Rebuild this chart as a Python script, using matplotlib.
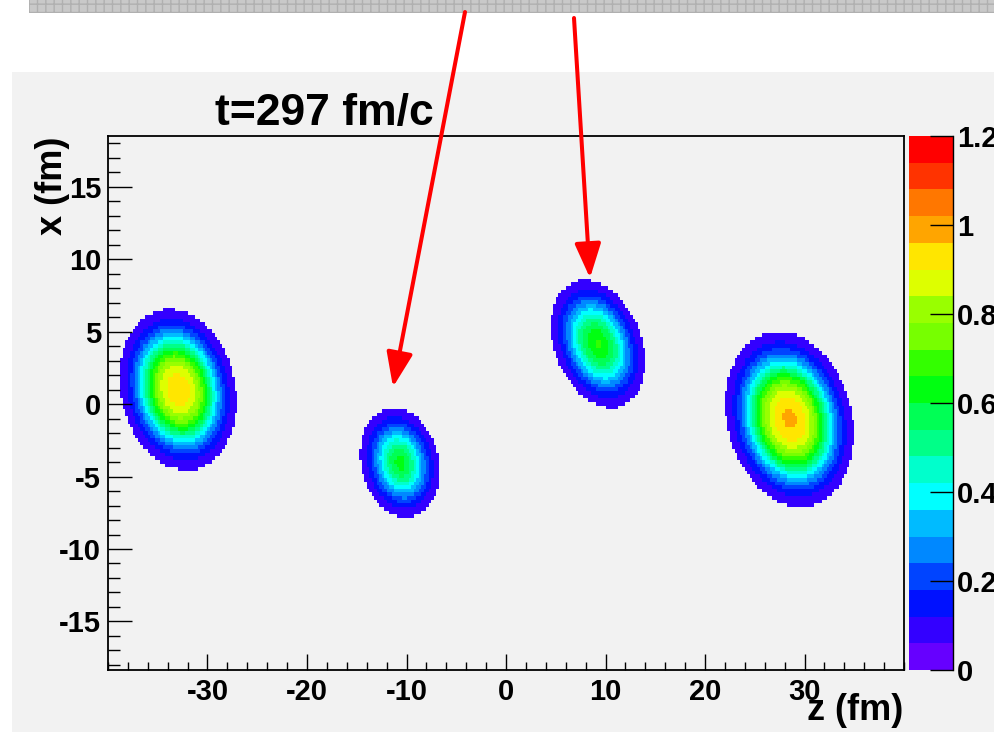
import numpy as np
import matplotlib
matplotlib.use('Agg')
import matplotlib.pyplot as plt
from matplotlib.colors import ListedColormap, BoundaryNorm
from matplotlib.patches import Rectangle, FancyArrowPatch
from matplotlib.cm import ScalarMappable
import matplotlib.ticker as mticker

plt.rcParams['font.family'] = ['Liberation Sans', 'DejaVu Sans']
plt.rcParams['font.weight'] = 'bold'
plt.rcParams['axes.unicode_minus'] = False

# ---------------- data ----------------
title = "t=297 fm/c"
xlabel = "z (fm)"
ylabel = "x (fm)"

# four density blobs: centre (fm), central value, semi-axes of the outer
# visible edge (fm), tilt (deg), surface diffuseness (fm)
blob_z = [-32.95, -10.65, 9.25, 28.5]
blob_x = [1.0, -4.05, 4.15, -1.05]
blob_peak = [0.962, 0.64, 0.67, 0.982]
blob_edge_a = [6.15, 4.2, 5.2, 6.8]
blob_edge_b = [5.25, 3.55, 3.85, 5.65]
blob_angle = [-35, -35, -38, -35]
blob_diffuse = [0.9, 0.8, 0.85, 0.95]

levels = [0.00, 0.06, 0.12, 0.18, 0.24, 0.30, 0.36, 0.42, 0.48, 0.54, 0.60,
          0.66, 0.72, 0.78, 0.84, 0.90, 0.96, 1.02, 1.08, 1.14, 1.20]
palette = ['#6600FF', '#3300FF', '#0011FF', '#0044FF', '#0088FF', '#00BBFF',
           '#00FFFF', '#00FFCC', '#00FF88', '#00FF55', '#00FF11', '#33FF00',
           '#77FF00', '#99FF00', '#DDFF00', '#FFE600', '#FFA500', '#FF7700',
           '#FF3300', '#FF0000']
cbar_ticks = [0, 0.2, 0.4, 0.6, 0.8, 1.0, 1.2]
cbar_labels = ["0", "0.2", "0.4", "0.6", "0.8", "1", "1.2"]
z_ticks = [-30, -20, -10, 0, 10, 20, 30]
x_ticks = [-15, -10, -5, 0, 5, 10, 15]
z_range = (-40, 40)
x_range = (-18.35, 18.5)
bin_size = 0.25

# ---------------- field on a binned grid ----------------
cut = levels[1]
zc = np.arange(z_range[0], z_range[1] + 1e-9, bin_size)
xc = np.arange(x_range[0], x_range[1] + 1e-9, bin_size)
Z, X = np.meshgrid(zc + bin_size / 2, xc + bin_size / 2)
field = np.zeros_like(Z)
for z0, x0, pk, ea, eb, ang, d in zip(blob_z, blob_x, blob_peak, blob_edge_a,
                                      blob_edge_b, blob_angle, blob_diffuse):
    t = np.deg2rad(ang)
    dz, dx = Z - z0, X - x0
    u = dz * np.cos(t) + dx * np.sin(t)
    v = -dz * np.sin(t) + dx * np.cos(t)
    rho = np.sqrt((u / ea) ** 2 + (v / eb) ** 2)  # = 1 on the visible edge
    r_edge = np.sqrt(ea * eb)
    r = rho * r_edge
    # Fermi profile with central value pk and value `cut` on the edge
    P = pk
    for _ in range(50):
        R = r_edge - d * np.log(P / cut - 1)
        P = pk * (1 + np.exp(-R / d))
    f = P / (1 + np.exp((r - R) / d))
    field = np.maximum(field, f)
field = np.ma.masked_less(field, cut)

cmap = ListedColormap(palette)
norm = BoundaryNorm(levels, cmap.N)

# ---------------- figure ----------------
W, H = 994, 732
fig = plt.figure(figsize=(W / 100, H / 100), dpi=100)
fig.patch.set_facecolor('white')

def fx(px):
    return px / W

def fy(py):
    return 1 - py / H

# grey band at top (cropped screenshot)
band = Rectangle((fx(29), fy(13)), fx(994) - fx(29), fy(0) - fy(13),
                 transform=fig.transFigure, facecolor='#C9C9C9',
                 edgecolor='#B0B0B0', hatch='++', lw=0, zorder=-5)
fig.patches.append(band)
# light grey canvas
canvas = Rectangle((fx(12), 0), 1 - fx(12), fy(72),
                   transform=fig.transFigure, facecolor='#F2F2F2',
                   edgecolor='none', zorder=-5)
fig.patches.append(canvas)

ax = fig.add_axes([fx(108), fy(670), fx(904) - fx(108), fy(136) - fy(670)])
ax.set_facecolor('#F2F2F2')
ax.pcolormesh(np.append(zc, zc[-1] + bin_size), np.append(xc, xc[-1] + bin_size),
              field, cmap=cmap, norm=norm, shading='flat')
ax.set_xlim(*z_range)
ax.set_ylim(*x_range)
for sp in ax.spines.values():
    sp.set_linewidth(1.3)
ax.set_xticks(z_ticks)
ax.set_yticks(x_ticks)
ax.xaxis.set_minor_locator(mticker.MultipleLocator(2))
ax.yaxis.set_minor_locator(mticker.MultipleLocator(1))
ax.tick_params(axis='x', which='major', direction='in', length=11.5, width=1,
               labelsize=21, pad=6, top=False)
ax.tick_params(axis='x', which='minor', direction='in', length=5.8, width=1,
               top=False)
ax.tick_params(axis='y', which='major', direction='in', length=17.3, width=1,
               labelsize=21, pad=5, right=False)
ax.tick_params(axis='y', which='minor', direction='in', length=8.6, width=1,
               right=False)
for lab in ax.get_xticklabels() + ax.get_yticklabels():
    lab.set_fontweight('bold')

# colour bar
cax = fig.add_axes([fx(909), fy(670), fx(953) - fx(909), fy(136) - fy(670)])
cb = fig.colorbar(ScalarMappable(norm=norm, cmap=cmap), cax=cax)
cb.outline.set_visible(False)
cb.set_ticks(cbar_ticks)
cb.set_ticklabels(cbar_labels)
cax.yaxis.set_ticks_position('right')
cax.tick_params(axis='y', which='major', direction='in', length=16.5, width=1,
                labelsize=21, pad=3, right=True, left=False)
cax.minorticks_off()
cax.plot([1, 1], [0, 1], transform=cax.transAxes, color='black', lw=1,
         clip_on=False)
for lab in cax.get_yticklabels():
    lab.set_fontweight('bold')

# texts
fig.text(fx(215), fy(125), title, fontsize=32, fontweight='bold',
         ha='left', va='baseline')
fig.text(fx(52), fy(137), ylabel, fontsize=26, fontweight='bold',
         rotation=90, ha='center', va='top')
fig.text(fx(903), fy(728), xlabel, fontsize=26, fontweight='bold',
         ha='right', va='bottom')

# red arrows
for (x0, y0), (x1, y1) in [((465, 12), (393, 387)), ((574, 18), (590, 278))]:
    arr = FancyArrowPatch((fx(x0), fy(y0)), (fx(x1), fy(y1)),
                          transform=fig.transFigure,
                          arrowstyle='-|>,head_length=21,head_width=8',
                          mutation_scale=1, color='#FF0000', lw=2.9,
                          shrinkA=0, shrinkB=0, zorder=10)
    fig.patches.append(arr)

fig.savefig('out.png', dpi=100, facecolor=fig.get_facecolor())
